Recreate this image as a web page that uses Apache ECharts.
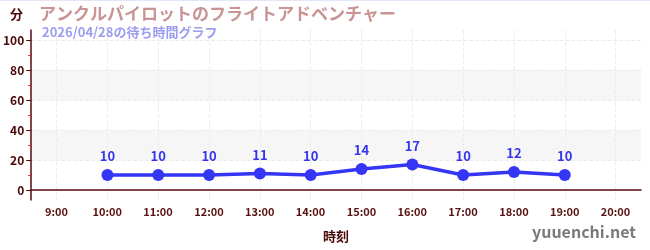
<!DOCTYPE html>
<html><head><meta charset="utf-8">
<script src="https://cdn.jsdelivr.net/npm/echarts@6/dist/echarts.min.js"></script>
<style>html,body{margin:0;padding:0;background:#fff}#c{width:650px;height:250px}</style>
</head><body><div id="c"></div>
<script>
const categories = ['9:00','10:00','11:00','12:00','13:00','14:00','15:00','16:00','17:00','18:00','19:00','20:00'];
const waitTimes = [null,10,10,10,11,10,14,17,10,12,10,null];
const yTicks = [0,20,40,60,80,100];
const titleText = 'アンクルパイロットのフライトアドベンチャー';
const subText = '2026/04/28の待ち時間グラフ';

const chart = echarts.init(document.getElementById('c'));
const font = '"Noto Sans CJK JP","Noto Sans",sans-serif';
const L = 31, R = 9;
chart.setOption({
  animation: false,
  textStyle: {fontFamily: font},
  title: [
    {text: titleText, left: 34, top: 0, textStyle: {fontSize: 17, fontWeight: 'bold', color: '#c99494', fontFamily: font}},
    {text: subText, left: 37, top: 21, textStyle: {fontSize: 13, fontWeight: 'bold', color: '#9c9cf0', fontFamily: font}}
  ],
  graphic: [
    {type: 'text', left: 10, top: 8, style: {text: '分', fill: '#4a0808', font: 'bold 13px ' + font}},
    {type: 'text', right: 14, top: 224, style: {text: 'yuuenchi.net', fill: '#7a7a7a', font: 'bold 16px ' + font}},
    {type: 'rect', left: 0, top: 0, shape: {width: 650, height: 1}, style: {fill: '#e4e4fa'}}
  ],
  grid: [
    {left: L, right: R, top: 30, bottom: 50},
    {left: L, right: R, top: 40, bottom: 60}
  ],
  xAxis: [
    {gridIndex: 0, type: 'category', data: categories, boundaryGap: true,
     name: '時刻', nameLocation: 'middle', nameGap: 30,
     nameTextStyle: {fontSize: 13, fontWeight: 'bold', color: '#4a0808', fontFamily: font},
     axisLine: {lineStyle: {color: '#5a0a0a', width: 1.5}},
     axisTick: {alignWithLabel: true, length: 5, lineStyle: {color: '#999'}},
     axisLabel: {fontSize: 11, fontWeight: 'bold', color: '#5a1010', margin: 6, fontFamily: font},
     splitLine: {show: true, alignWithLabel: true, lineStyle: {type: 'dashed', color: '#ececec'}}},
    {gridIndex: 1, type: 'category', data: categories, boundaryGap: true, show: false}
  ],
  yAxis: [
    {gridIndex: 0, type: 'value', min: -20/3, max: 320/3,
     axisLine: {show: true, lineStyle: {color: '#5a0a0a', width: 1.5}},
     axisTick: {show: false}, axisLabel: {show: false}, splitLine: {show: false}},
    {gridIndex: 1, type: 'value', min: 0, max: 100, interval: 20,
     axisLine: {show: false},
     axisTick: {show: true, length: 5, lineStyle: {color: '#4a0808'}},
     minorTick: {show: true, splitNumber: 2, length: 3, lineStyle: {color: '#dd2222'}},
     axisLabel: {fontSize: 12, fontWeight: 'bold', color: '#4a0808', margin: 7, fontFamily: font},
     splitLine: {show: true, lineStyle: {type: 'dashed', color: '#ebebeb'}},
     splitArea: {show: true, areaStyle: {color: ['rgba(255,255,255,0)', '#f6f6f6']}}}
  ],
  series: [{
    type: 'line', xAxisIndex: 1, yAxisIndex: 1, data: waitTimes,
    symbol: 'circle', symbolSize: 12, connectNulls: false,
    lineStyle: {color: '#3535f5', width: 3.5},
    itemStyle: {color: '#3535f5'},
    label: {show: true, position: 'top', distance: 6, fontSize: 13, fontWeight: 'bold', color: '#3535f0', fontFamily: font}
  }]
});
</script></body></html>
